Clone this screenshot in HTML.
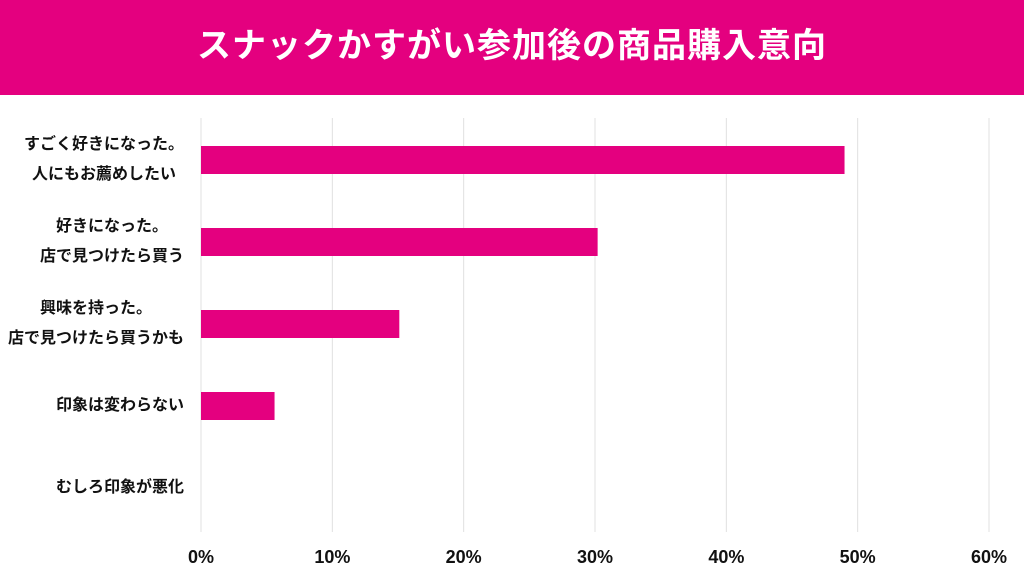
<!DOCTYPE html>
<html><head><meta charset="utf-8"><style>
body{margin:0;width:1024px;height:576px;background:#fff;overflow:hidden;position:relative;font-family:"Liberation Sans","Noto Sans CJK JP",sans-serif;}
#hdr{position:absolute;left:0;top:0;width:1024px;height:95px;background:#E4007F;color:#fff;font-weight:bold;font-size:34px;text-align:center;line-height:92px;letter-spacing:1px;}
.lbl{position:absolute;right:840px;font-weight:bold;font-size:16px;color:#111;text-align:center;line-height:30px;}
</style></head><body>
<div id="hdr">スナックかすがい参加後の商品購入意向</div>
<svg id="c" width="1024" height="576" style="position:absolute;left:0;top:0"></svg>
<div id="labels"></div>
<script>
const categories=["すごく好きになった。<br>人にもお薦めしたい","好きになった。<br>店で見つけたら買う","興味を持った。<br>店で見つけたら買うかも","印象は変わらない","むしろ印象が悪化"];
const values=[49.0,30.2,15.1,5.6,0];
const ticks=[0,10,20,30,40,50,60];
const tickLabels=["0%","10%","20%","30%","40%","50%","60%"];
const ns="http://www.w3.org/2000/svg";
const svg=document.getElementById('c');
const x0=201,x1=989,xmax=60;
const xs=v=>x0+(x1-x0)*v/xmax;
const rowY=i=>160+82*i;
ticks.forEach((t,i)=>{
 const l=document.createElementNS(ns,'line');
 
 
 l.setAttribute('x1',xs(t));l.setAttribute('x2',xs(t));l.setAttribute('y1',118);l.setAttribute('y2',532);
 l.setAttribute('stroke','#e0e0e0');l.setAttribute('stroke-width','1');svg.appendChild(l);
 const tx=document.createElementNS(ns,'text');
 
 
 tx.setAttribute('x',xs(t));tx.setAttribute('y',563);tx.setAttribute('text-anchor','middle');
 tx.setAttribute('font-size','18');tx.setAttribute('font-weight','bold');tx.setAttribute('fill','#111');
 tx.textContent=tickLabels[i];svg.appendChild(tx);
});
const lbls=document.getElementById('labels');
values.forEach((v,i)=>{
 const r=document.createElementNS(ns,'rect');
 
 
 r.setAttribute('x',xs(0));r.setAttribute('y',rowY(i)-14);r.setAttribute('width',xs(v)-xs(0));r.setAttribute('height',28);
 r.setAttribute('fill','#E4007F');svg.appendChild(r);
 const d=document.createElement('div');
 
 
 d.className='lbl';d.innerHTML=categories[i];
 lbls.appendChild(d);
 const n=categories[i].split('<br>').length;
 d.style.top=(rowY(i)-15*n)+'px';
});
</script>
</body></html>
